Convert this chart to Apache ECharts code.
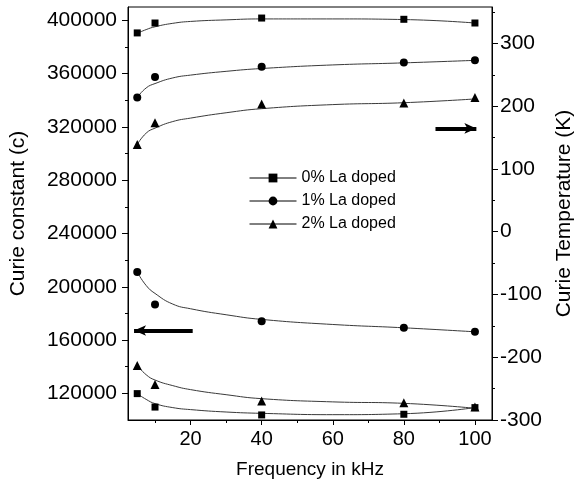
<!DOCTYPE html>
<html>
<head>
<meta charset="utf-8">
<script src="https://cdn.jsdelivr.net/npm/echarts@6/dist/echarts.min.js"></script>
<style>
html,body{margin:0;padding:0;background:#fff;}
#chart{width:583px;height:489px;}
</style>
</head>
<body>
<div id="chart"></div>
<script>
// ---- data ----
var freq = [5, 10, 40, 80, 100];
// Curie constant (left axis)
var const0 = [119800, 109700, 103800, 104300, 109300];
var const1 = [211100, 186700, 174100, 169200, 166200];
var const2 = [141000, 126700, 114200, 113000, 109800];
// Curie temperature (right axis)
var temp0 = [316.7, 332.5, 340.4, 338.4, 332.5];
var temp1 = [214, 246.3, 263, 269.4, 273.1];
var temp2 = [138.8, 173.6, 203.6, 205.2, 214];
// fitted curves
var fitFreq = [5, 7.5, 10, 15, 20, 30, 40, 60, 80, 100];
var fitConst0 = [119800, 115500, 112300, 109300, 107800, 106000, 105000, 104000, 104700, 109300];
var fitConst1 = [211100, 201000, 195000, 187000, 183500, 179000, 175500, 171700, 169200, 166200];
var fitConst2 = [141000, 134000, 130000, 125800, 122800, 119000, 116000, 113600, 112500, 108800];
var fitTemp0 = [316, 322, 326.5, 332, 335, 337.5, 339, 339, 338, 332.5];
var fitTemp1 = [214, 229, 236, 245, 249.5, 255.5, 260, 265.7, 269, 273];
var fitTemp2 = [139, 157, 165, 175.5, 181, 189.5, 196, 202.5, 205.5, 211.5];
// labels / ticks
var seriesNames = ['0% La doped', '1% La doped', '2% La doped'];
var xTicks = [20, 40, 60, 80, 100];
var xMinor = [10, 30, 50, 70, 90];
var leftTicks = [120000, 160000, 200000, 240000, 280000, 320000, 360000, 400000];
var leftMinor = [140000, 180000, 220000, 260000, 300000, 340000, 380000];
var rightTicks = [-300, -200, -100, 0, 100, 200, 300];
var rightMinor = [-250, -150, -50, 50, 150, 250, 350];
// arrows (data coords)
var leftArrow = {from: [20.6, 167200], to: [4.1, 167200]};
var rightArrow = {from: [88.9, 164.6], to: [100.4, 164.6]};

function pairs(xs, ys) { return xs.map(function (x, i) { return [x, ys[i]]; }); }
function plain(v) { return String(v); }

var FONT = 'Liberation Sans, Arial, sans-serif';
var symbols = ['rect', 'circle', 'triangle'];
var symSizes = [7, 8, 9];

var chart = echarts.init(document.getElementById('chart'), null, {renderer: 'canvas'});

var series = [];
var constData = [const0, const1, const2];
var tempData = [temp0, temp1, temp2];
var fitC = [fitConst0, fitConst1, fitConst2];
var fitT = [fitTemp0, fitTemp1, fitTemp2];

for (var i = 0; i < 3; i++) {
  series.push({
    type: 'line', smooth: true, data: pairs(fitFreq, fitC[i]), yAxisIndex: 0,
    showSymbol: false, symbol: 'none', silent: true, z: 2,
    lineStyle: {color: '#3a3a3a', width: 1}
  });
  series.push({
    type: 'line', smooth: true, data: pairs(fitFreq, fitT[i]), yAxisIndex: 1,
    showSymbol: false, symbol: 'none', silent: true, z: 2,
    lineStyle: {color: '#3a3a3a', width: 1}
  });
}
for (var j = 0; j < 3; j++) {
  series.push({
    name: seriesNames[j], type: 'line', data: pairs(freq, constData[j]), yAxisIndex: 0,
    symbol: symbols[j], symbolSize: symSizes[j], showSymbol: true, z: 5,
    itemStyle: {color: '#000'}, lineStyle: {color: '#000', width: 1, opacity: 0}
  });
  series.push({
    name: seriesNames[j], type: 'line', data: pairs(freq, tempData[j]), yAxisIndex: 1,
    symbol: symbols[j], symbolSize: symSizes[j], showSymbol: true, z: 5,
    itemStyle: {color: '#000'}, lineStyle: {color: '#000', width: 1, opacity: 0}
  });
}
// arrows
series.push({
  type: 'line', data: [], yAxisIndex: 0, silent: true,
  markLine: {
    silent: true, animation: false, label: {show: false},
    symbolSize: [8, 12],
    lineStyle: {color: '#000', width: 4, type: 'solid'},
    data: [[{coord: leftArrow.from, symbol: 'none'}, {coord: leftArrow.to, symbol: 'arrow'}]]
  }
});
series.push({
  type: 'line', data: [], yAxisIndex: 1, silent: true,
  markLine: {
    silent: true, animation: false, label: {show: false},
    symbolSize: [8, 12],
    lineStyle: {color: '#000', width: 4, type: 'solid'},
    data: [[{coord: rightArrow.from, symbol: 'none'}, {coord: rightArrow.to, symbol: 'arrow'}]]
  }
});

var axisLineStyle = {show: true, onZero: false, lineStyle: {color: '#000', width: 1}};

chart.setOption({
  animation: false,
  backgroundColor: '#fff',
  textStyle: {fontFamily: FONT, color: '#000'},
  grid: {left: 127, right: 89, top: 7, bottom: 69, show: true, borderColor: '#000', borderWidth: 1, backgroundColor: 'transparent'},
  legend: {
    data: seriesNames, orient: 'vertical', left: 244, top: 165,
    itemWidth: 47, itemHeight: 11, itemGap: 7,
    textStyle: {fontFamily: FONT, fontSize: 16, color: '#000'},
    lineStyle: {color: '#000', width: 1, opacity: 1},
    itemStyle: {color: '#000'},
    selectedMode: false
  },
  xAxis: [{
    type: 'value', min: 2.4, max: 104.8, position: 'bottom',
    axisLine: axisLineStyle,
    axisTick: {show: true, length: 5, customValues: xTicks, lineStyle: {color: '#000'}},
    axisLabel: {customValues: xTicks, formatter: plain, fontSize: 20, color: '#000', margin: 9, fontFamily: FONT},
    splitLine: {show: false},
    name: 'Frequency in kHz', nameLocation: 'middle', nameGap: 40,
    nameTextStyle: {fontSize: 19, color: '#000', fontFamily: FONT}
  }, {
    type: 'value', min: 2.4, max: 104.8, position: 'bottom',
    axisLine: {show: false, onZero: false},
    axisTick: {show: true, length: 3, customValues: xMinor, lineStyle: {color: '#000'}},
    axisLabel: {show: false}, splitLine: {show: false}
  }],
  yAxis: [{
    type: 'value', min: 100000, max: 410000, position: 'left',
    axisLine: axisLineStyle,
    axisTick: {show: true, length: 6, customValues: leftTicks, lineStyle: {color: '#000'}},
    axisLabel: {customValues: leftTicks, formatter: plain, fontSize: 21, color: '#000', margin: 11, fontFamily: FONT},
    splitLine: {show: false},
    name: 'Curie constant (c)', nameLocation: 'middle', nameGap: 99, nameRotate: 90,
    nameTextStyle: {fontSize: 21, color: '#000', fontFamily: FONT}
  }, {
    type: 'value', min: -300, max: 358, position: 'right',
    axisLine: axisLineStyle,
    axisTick: {show: true, length: 6, customValues: rightTicks, lineStyle: {color: '#000'}},
    axisLabel: {customValues: rightTicks, formatter: plain, fontSize: 21, color: '#000', margin: 8, fontFamily: FONT},
    splitLine: {show: false},
    name: 'Curie Temperature (K)', nameLocation: 'middle', nameGap: 62, nameRotate: 90,
    nameTextStyle: {fontSize: 21, color: '#000', fontFamily: FONT}
  }, {
    type: 'value', min: 100000, max: 410000, position: 'left',
    axisLine: {show: false, onZero: false},
    axisTick: {show: true, length: 3, customValues: leftMinor, lineStyle: {color: '#000'}},
    axisLabel: {show: false}, splitLine: {show: false}
  }, {
    type: 'value', min: -300, max: 358, position: 'right',
    axisLine: {show: false, onZero: false},
    axisTick: {show: true, length: 3, customValues: rightMinor, lineStyle: {color: '#000'}},
    axisLabel: {show: false}, splitLine: {show: false}
  }],
  series: series
});
</script>
</body>
</html>
